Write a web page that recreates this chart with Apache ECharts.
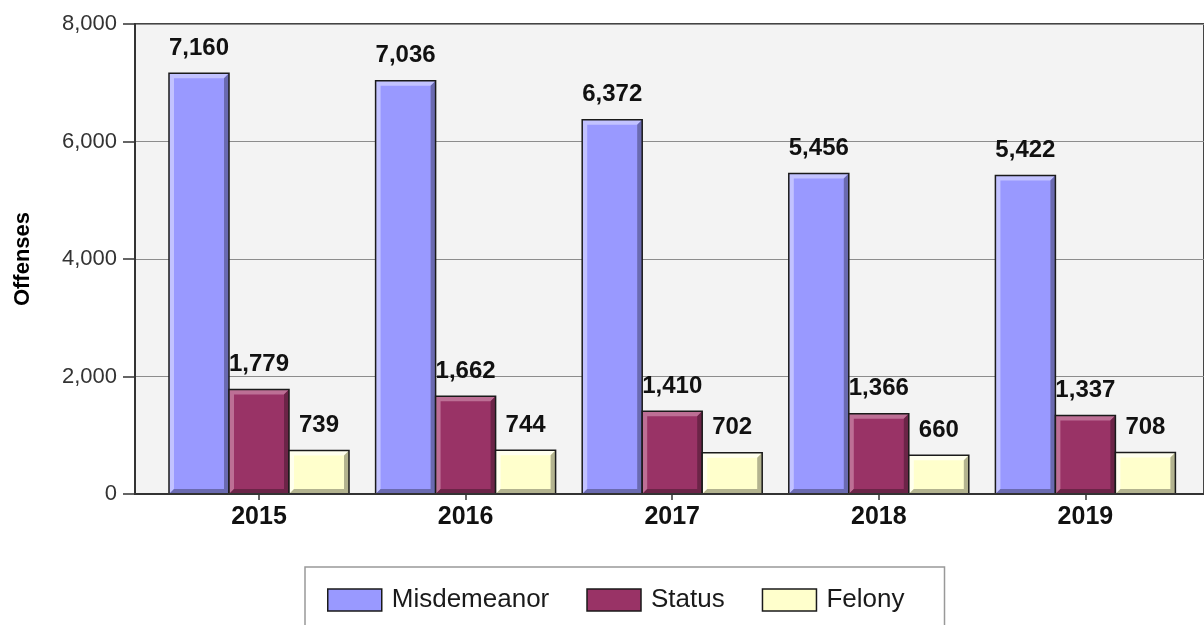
<!DOCTYPE html>
<html>
<head>
<meta charset="utf-8">
<script src="https://cdn.jsdelivr.net/npm/echarts@6/dist/echarts.min.js"></script>
<style>
  html, body { margin: 0; padding: 0; background: #ffffff; }
  #chart { width: 1204px; height: 625px; }
</style>
</head>
<body>
<div id="chart"></div>
<script>
// Offenses by year and type
const years = ['2015', '2016', '2017', '2018', '2019'];
const misdemeanor = [7160, 7036, 6372, 5456, 5422];
const status = [1779, 1662, 1410, 1366, 1337];
const felony = [739, 744, 702, 660, 708];
const yTicks = [0, 2000, 4000, 6000, 8000];

const FONT = '"Liberation Sans", Arial, sans-serif';
const BAR_W = 60;
const BEVEL = 5;

const palette = [
  { name: 'Misdemeanor', data: misdemeanor, base: '#9999ff', light: '#c2c2ff', dark: '#6a6ab0' },
  { name: 'Status', data: status, base: '#993366', light: '#bd6f95', dark: '#6b2447' },
  { name: 'Felony', data: felony, base: '#ffffcc', light: '#ffffee', dark: '#b3b38f' }
];

function barSeries(p) {
  return {
    name: p.name,
    type: 'bar',
    xAxisIndex: 1,
    yAxisIndex: 1,
    data: p.data,
    barWidth: BAR_W,
    barGap: '0%',
    z: 2,
    itemStyle: { color: p.base, borderWidth: 0 },
    label: {
      show: true,
      position: 'top',
      distance: 13,
      color: '#111111',
      fontFamily: FONT,
      fontWeight: 'bold',
      fontSize: 24,
      formatter: q => q.value.toLocaleString('en-US')
    },
    emphasis: { disabled: true }
  };
}

// raised-edge overlay: light top/left, dark bottom/right, plus outline
function bevelSeries(p, k, count) {
  return {
    type: 'custom',
    xAxisIndex: 1,
    yAxisIndex: 1,
    silent: true,
    z: 3,
    data: p.data.map((v, i) => [i, v]),
    encode: { x: 0, y: 1 },
    renderItem: function (params, api) {
      const top = api.coord([api.value(0), api.value(1)]);
      const base = api.coord([api.value(0), 0]);
      const x0 = top[0] - (count * BAR_W) / 2 + k * BAR_W;
      const x1 = x0 + BAR_W;
      const y0 = top[1];
      const y1 = base[1];
      const b = Math.min(BEVEL, (y1 - y0) / 2);
      return {
        type: 'group',
        children: [
          { type: 'polygon',
            shape: { points: [[x0, y0], [x1, y0], [x1 - b, y0 + b], [x0 + b, y0 + b], [x0 + b, y1 - b], [x0, y1]] },
            style: { fill: p.light } },
          { type: 'polygon',
            shape: { points: [[x1, y0], [x1, y1], [x0, y1], [x0 + b, y1 - b], [x1 - b, y1 - b], [x1 - b, y0 + b]] },
            style: { fill: p.dark } },
          { type: 'rect',
            shape: { x: x0, y: y0, width: BAR_W, height: y1 - y0 },
            style: { fill: 'none', stroke: '#1a1a1a', lineWidth: 1.5 } }
        ]
      };
    }
  };
}

const chart = echarts.init(document.getElementById('chart'), null, { renderer: 'canvas' });

chart.setOption({
  animation: false,
  backgroundColor: '#ffffff',
  grid: [
    // frame, background and value axis
    { left: 135, right: -30, top: 24, bottom: 131, show: true,
      backgroundColor: '#f3f3f3', borderColor: '#444444', borderWidth: 2 },
    // category layout for the bars
    { left: 155.7, right: 15.3, top: 24, bottom: 131 }
  ],
  xAxis: [
    { type: 'value', gridIndex: 0, min: 0, max: 1, z: 5,
      axisLine: { show: true, lineStyle: { color: '#333333', width: 2 } },
      axisTick: { show: false }, axisLabel: { show: false }, splitLine: { show: false } },
    { type: 'category', gridIndex: 1, data: years,
      axisLine: { show: false },
      axisTick: { show: true, alignWithLabel: true, length: 6, lineStyle: { color: '#333333', width: 1.5 } },
      axisLabel: { margin: 11, color: '#111111', fontFamily: FONT, fontWeight: 'bold', fontSize: 25 } }
  ],
  yAxis: [
    { type: 'value', gridIndex: 0, min: 0, max: 8000, interval: 2000,
      name: 'Offenses', nameLocation: 'middle', nameGap: 101, nameRotate: 90,
      nameTextStyle: { color: '#000000', fontFamily: FONT, fontWeight: 'bold', fontSize: 22 },
      axisLine: { show: true, lineStyle: { color: '#333333', width: 2 } },
      axisTick: { show: true, length: 12, lineStyle: { color: '#333333', width: 1.5 } },
      axisLabel: { margin: 18, color: '#333333', fontFamily: FONT, fontSize: 22,
        formatter: v => yTicks.includes(v) ? v.toLocaleString('en-US') : '' },
      splitLine: { show: true, lineStyle: { color: '#8c8c8c', width: 1.2 } } },
    { type: 'value', gridIndex: 1, min: 0, max: 8000, interval: 2000, show: false }
  ],
  legend: {
    left: 305, top: 567,
    padding: [20, 40, 30, 22],
    backgroundColor: '#ffffff',
    borderColor: '#999999', borderWidth: 1.5,
    icon: 'rect',
    itemWidth: 54, itemHeight: 22, itemGap: 37,
    selectedMode: false,
    textStyle: { color: '#1a1a1a', fontFamily: FONT, fontSize: 26, padding: [0, 0, 0, 5] },
    data: palette.map(p => ({
      name: p.name,
      itemStyle: { color: p.base, borderColor: '#1a1a1a', borderWidth: 1.5 }
    }))
  },
  series: palette.map(barSeries).concat(palette.map((p, k) => bevelSeries(p, k, palette.length)))
});
</script>
</body>
</html>
